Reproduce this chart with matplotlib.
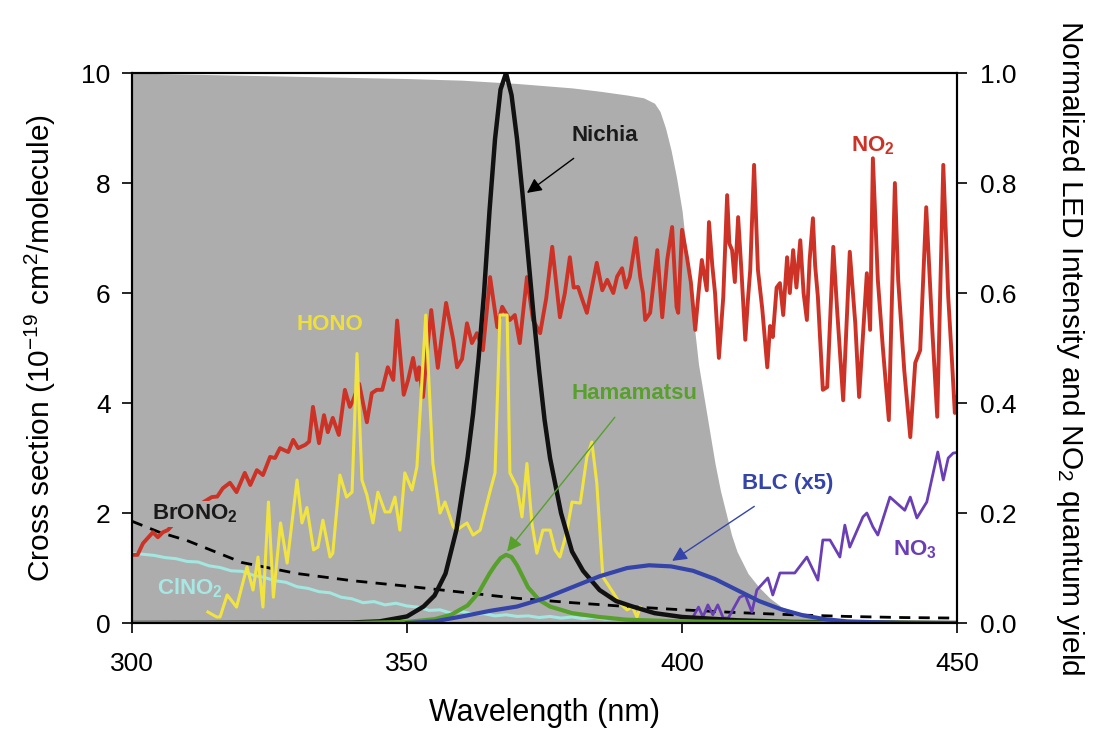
import matplotlib
matplotlib.use("Agg")
import matplotlib.pyplot as plt
import numpy as np

plt.rcParams['font.family'] = ['Liberation Sans', 'DejaVu Sans']
plt.rcParams['mathtext.fontset'] = 'custom'
plt.rcParams['mathtext.rm'] = 'Liberation Sans'
plt.rcParams['mathtext.bf'] = 'Liberation Sans:bold'
plt.rcParams['mathtext.default'] = 'regular'

# NO2 quantum yield (right axis)
qy_wl = [300, 310, 320, 330, 340, 350, 360, 370, 380, 385, 390, 393, 395, 396, 397,
         398, 399, 400, 401, 402, 403, 404, 405, 406, 407, 408, 409, 410, 412, 414,
         416, 418, 420, 422, 425, 430]
qy = [1.0, 0.998, 0.996, 0.994, 0.992, 0.99, 0.987, 0.981, 0.973, 0.967, 0.96, 0.955,
      0.945, 0.93, 0.9, 0.86, 0.81, 0.75, 0.66, 0.56, 0.47, 0.41, 0.35, 0.29, 0.24,
      0.2, 0.16, 0.13, 0.09, 0.065, 0.045, 0.03, 0.022, 0.015, 0.005, 0.0]

# NO2 cross section (left axis)
no2_wl = [300, 301, 302, 302.9, 303.8, 304.7, 305.6, 306.5, 308, 310, 311.5, 313, 314.5,
          315.5, 316.5, 317.8, 319, 320.5, 321.5, 322.7, 323.8, 325.1, 326, 326.9, 327.5,
          328.4, 329.3, 330.2, 331.5, 332.2, 332.9, 334, 334.9, 335.6, 336.5, 337.6,
          338.7, 339.6, 340.2, 341.3, 342.7, 343.6, 344.5, 345.5, 346.5, 347.5, 348.2,
          349.4, 350.2, 351.1, 351.8, 352.2, 352.9, 353.6, 354.4, 355.6, 356.3, 357.1,
          358.4, 359.1, 360, 360.9, 361.8, 362.7, 363.8, 365.1, 366.4, 367.3, 368.7,
          369.6, 370.5, 371.8, 372.9, 374.2, 375.3, 376.4, 377.8, 378.7, 379.6, 380.3,
          381.1, 381.8, 382.7, 384.5, 385.5, 386.4, 387.5, 388.2, 389.1, 389.8, 390.5,
          391.6, 392.4, 392.9, 393.3, 394.2, 395.5, 396.4, 397.3, 398.2, 399.0, 399.3,
          400, 400.9, 401.6, 402.4, 403.0, 403.6, 404.5, 404.9, 405.5, 406, 406.7,
          407.5, 408.2, 408.6, 409.1, 409.6, 410.2, 410.8, 411.5, 412.0, 412.4, 413.1,
          413.8, 414.6, 415.5, 416.0, 416.5, 417.2, 417.8, 418.4, 419.1, 419.6, 420.2,
          420.8, 421.5, 422.1, 422.7, 423.2, 423.8, 424.2, 424.7, 425.6, 426.4, 427.5,
          428.2, 429.3, 430.5, 431.5, 432.2, 433.6, 434.2, 434.7, 435.6, 436.5, 437.6,
          438.7, 439.3, 440.4, 441.5, 442.4, 443.3, 444.4, 445.5, 446.4, 447.5, 448.4,
          449.1, 449.6, 450]
no2 = [1.24, 1.24, 1.45, 1.55, 1.65, 1.56, 1.65, 1.69, 1.85, 2.05, 1.95, 2.2, 2.29,
       2.3, 2.45, 2.55, 2.38, 2.73, 2.51, 2.78, 2.69, 3.02, 3.0, 3.18, 3.15,
       3.11, 3.33, 3.18, 3.24, 3.3, 3.93, 3.27, 3.78, 3.47, 3.73, 3.42,
       4.24, 3.93, 4.05, 4.35, 3.65, 4.18, 4.24, 4.24, 4.65, 4.42, 5.5,
       4.15, 4.42, 4.82, 4.42, 4.65, 4.11, 4.9, 5.69, 4.64, 5.2, 5.82,
       5.15, 4.65, 4.8, 5.45, 5.09, 5.27, 4.96, 6.29, 5.38, 5.75, 5.51,
       5.6, 5.09, 6.29, 5.51, 5.27, 5.9, 6.84, 5.56, 6.0, 6.65, 6.1,
       6.11, 5.9, 5.64, 6.55, 6.05, 6.24, 6.0, 6.3, 6.45, 6.1, 6.29,
       7.0, 6.29, 6.0, 5.51, 5.64, 6.78, 5.56, 6.6, 7.2, 5.75, 5.64,
       7.15, 6.65, 6.2, 5.33, 6.0, 6.6, 6.05, 7.29, 6.5, 6.0, 4.82,
       5.93, 7.78, 6.9, 6.78, 6.2, 7.38, 6.4, 5.15, 5.9, 6.42, 8.33,
       6.42, 5.7, 4.65, 5.4, 5.2, 6.1, 6.18, 5.6, 6.65, 6.0, 6.78,
       6.1, 6.96, 6.0, 5.51, 6.6, 7.36, 6.5, 5.93, 4.24, 4.29, 6.84,
       5.69, 4.05, 6.75, 5.45, 4.11, 6.36, 5.33, 8.45, 6.24, 5.02, 3.69,
       8.0, 6.24, 4.6, 3.38, 4.73, 4.96, 7.56, 5.33, 3.75, 8.33, 5.93,
       4.73, 3.82, 4.1]

# HONO cross section (left axis)
hono_wl = [313.8, 315.4, 316, 317.3, 319, 320.9, 322, 322.9, 323.8, 324.8, 325.7, 327,
           328.2, 330, 330.9, 331.8, 333, 333.8, 334.7, 336, 336.5, 337.8, 339, 340,
           340.9, 341.8, 342.7, 343.8, 344.7, 346, 346.9, 347.8, 348.7, 349.6, 350.9,
           351.8, 353.4, 354.7, 356, 356.9, 358.4, 359, 360.9, 362, 363.3, 365, 366,
           366.9, 368.2, 368.7, 370, 370.9, 371.8, 372.7, 373.6, 374.7, 376, 376.9,
           377.8, 379, 380, 381.5, 382.7, 383.6, 384.5, 385.6, 387.5, 388.7, 390,
           391, 391.8, 392.4]
hono = [0.2, 0.11, 0.11, 0.51, 0.29, 1.02, 0.6, 1.2, 0.29, 2.2, 0.47, 1.82,
        1.09, 2.6, 1.82, 2.1, 1.33, 1.38, 1.87, 1.2, 1.27, 2.69, 2.29, 2.38,
        4.9, 2.6, 2.33, 1.82, 2.38, 2.02, 2.02, 2.29, 1.69, 2.73, 2.42,
        2.84, 5.6, 2.9, 2.0, 2.2, 1.75, 1.69, 1.82, 1.6, 1.69, 2.36, 2.73,
        5.6, 5.6, 2.73, 2.47, 1.93, 2.9, 1.82, 1.27, 1.69, 1.69, 1.33,
        1.2, 1.64, 2.2, 2.18, 3.02, 3.29, 2.55, 0.84, 0.55, 0.36, 0.24,
        0.29, 0.11, 0.29]

# NO3 cross section (left axis)
no3_wl = [402, 403, 403.8, 404.7, 405.6, 406.5, 407.5, 408.4, 410.5, 411.5, 412.7,
          413.6, 415.6, 416.5, 417.8, 420.5, 422.7, 424.7, 425.6, 426.9, 428.7, 429.6,
          430.5, 432.9, 433.6, 434.7, 435.6, 437.8, 440.5, 441.5, 442.7, 444.5, 446.5,
          447.5, 448.4, 449.3, 450]
no3 = [0.11, 0.29, 0.11, 0.33, 0.15, 0.33, 0.09, 0.09, 0.47, 0.51, 0.2,
       0.6, 0.82, 0.51, 0.91, 0.91, 1.2, 0.78, 1.51, 1.51, 1.2, 1.78,
       1.38, 1.93, 2.0, 1.75, 1.6, 2.29, 2.05, 2.29, 1.91, 2.2, 3.11,
       2.6, 3.0, 3.09, 3.1]

# BrONO2 and ClNO2 cross sections (left axis)
brono2_wl = [300, 305, 310, 315, 320, 325, 330, 340, 350, 360, 370, 380, 390, 400,
             410, 420, 430, 440, 450]
brono2 = [1.85, 1.65, 1.5, 1.3, 1.1, 1.0, 0.9, 0.77, 0.67, 0.56, 0.45, 0.37, 0.3,
          0.24, 0.19, 0.15, 0.12, 0.1, 0.09]

clno2_wl = [300, 302, 304, 306, 308, 310, 312, 314, 316, 318, 320, 322, 324, 326, 328,
            330, 332, 334, 336, 338, 340, 342, 344, 346, 348, 350, 352, 354, 356, 358,
            360, 362, 364, 366, 368, 370, 372, 374, 376, 378, 380, 382, 384, 386, 388,
            390]
clno2 = [1.27, 1.25, 1.23, 1.19, 1.17, 1.12, 1.11, 1.04, 1.01, 0.95, 0.94, 0.87,
         0.83, 0.77, 0.74, 0.66, 0.63, 0.57, 0.55, 0.47, 0.44, 0.37, 0.39, 0.33,
         0.36, 0.31, 0.29, 0.23, 0.24, 0.18, 0.21, 0.16, 0.17, 0.13, 0.15, 0.12,
         0.13, 0.1, 0.12, 0.09, 0.11, 0.08, 0.1, 0.07, 0.08, 0.06]

# LED emission spectra (right axis)
nichia_wl = [300, 340, 345, 350, 353, 355, 357, 359, 361, 362, 363, 364, 365, 366, 367,
             368, 369, 370, 371, 372, 373, 374, 375, 376, 378, 380, 382, 385, 388, 391,
             395, 400, 410, 420, 450]
nichia = [0.0, 0.001, 0.003, 0.012, 0.03, 0.05, 0.09, 0.17, 0.3, 0.38, 0.48, 0.6,
          0.75, 0.88, 0.97, 1.0, 0.96, 0.88, 0.78, 0.67, 0.56, 0.46, 0.37, 0.3, 0.2,
          0.13, 0.095, 0.06, 0.04, 0.03, 0.018, 0.011, 0.005, 0.002, 0.0]

hamamatsu_wl = [300, 340, 350, 355, 358, 361, 363, 365, 366, 367, 368, 369, 370, 371,
                372, 374, 376, 380, 385, 390, 400, 420, 450]
hamamatsu = [0.0, 0.0, 0.002, 0.007, 0.015, 0.032, 0.055, 0.09, 0.105, 0.118, 0.124,
             0.12, 0.105, 0.085, 0.065, 0.042, 0.03, 0.018, 0.011, 0.006, 0.003,
             0.001, 0.0]

blc_wl = [350, 355, 360, 365, 370, 375, 380, 385, 390, 394, 398, 402, 406, 410, 414,
          418, 422, 426, 430, 440, 450]
blc = [0.0, 0.003, 0.012, 0.022, 0.03, 0.045, 0.065, 0.085, 0.1, 0.105, 0.103, 0.095,
       0.08, 0.06, 0.04, 0.025, 0.014, 0.007, 0.003, 0.0, 0.0]

fig = plt.figure(figsize=(10.93, 7.31), dpi=100)
ax = fig.add_axes([0.1208, 0.1477, 0.7548, 0.7524])
ax2 = ax.twinx()
ax.set_xlim(300, 450)
ax.set_ylim(0, 10)
ax2.set_ylim(0, 1)
rt = ax2.transData  # right-axis scale, but drawn inside the main axes

ax.fill_between(qy_wl, 0, qy, transform=rt, color='#adadad', lw=0, zorder=1)
ax.plot(clno2_wl, clno2, color='#a4e6e0', lw=2.2, zorder=2)
ax.plot(brono2_wl, brono2, color='black', lw=2, ls=(0, (4, 3)), zorder=2.5)
ax.plot(no2_wl, no2, color='#cc3326', lw=2.8, zorder=3)
ax.plot(hono_wl, hono, color='#f2e440', lw=2.2, zorder=4)
ax.plot(no3_wl, no3, color='#6a3fb5', lw=2.0, zorder=4)
ax.plot(nichia_wl, nichia, transform=rt, color='#111111', lw=3.2, zorder=5)
ax.plot(hamamatsu_wl, hamamatsu, transform=rt, color='#58a02c', lw=3, zorder=6)
ax.plot(blc_wl, blc, transform=rt, color='#3444a8', lw=3, zorder=6)

bold = dict(fontsize=16, fontweight='bold', zorder=8)
ax.text(434.7, 8.67, 'NO$_\\mathbf{2}$', color='#cc3326', ha='center', va='center', **bold)
ax.text(336, 5.42, 'HONO', color='#eedf3c', ha='center', va='center', **bold)
ax.text(442.4, 1.33, 'NO$_\\mathbf{3}$', color='#6a3fb5', ha='center', va='center', **bold)
ax.text(311.5, 1.98, 'BrONO$_\\mathbf{2}$', color='#1a1a1a', ha='center', va='center',
        bbox=dict(facecolor='#adadad', edgecolor='none', pad=1), **bold)
ax.text(310.5, 0.64, 'ClNO$_\\mathbf{2}$', color='#a8e8e4', ha='center', va='center', **bold)

ax.annotate('Nichia', xy=(371.8, 7.82), xytext=(386, 8.87), color='#1a1a1a',
            ha='center', va='center', fontsize=16, fontweight='bold', zorder=8,
            arrowprops=dict(arrowstyle='-|>', color='black', lw=1, mutation_scale=22,
                            shrinkA=12, shrinkB=0))
ax.annotate('Hamamatsu', xy=(368.2, 1.3), xytext=(391.3, 4.18), color='#58a02c',
            ha='center', va='center', fontsize=16, fontweight='bold', zorder=8,
            arrowprops=dict(arrowstyle='-|>', color='#58a02c', lw=1, mutation_scale=22,
                            shrinkA=10, shrinkB=0))
ax.annotate('BLC (x5)', xy=(398.2, 1.13), xytext=(419.3, 2.53), color='#3444a8',
            ha='center', va='center', fontsize=16, fontweight='bold', zorder=8,
            arrowprops=dict(arrowstyle='-|>', color='#3444a8', lw=1, mutation_scale=22,
                            shrinkA=12, shrinkB=0))

ax.set_xticks([300, 350, 400, 450])
ax.set_yticks([0, 2, 4, 6, 8, 10])
ax2.set_yticks([0, 0.2, 0.4, 0.6, 0.8, 1.0])
ax2.set_yticklabels(['0.0', '0.2', '0.4', '0.6', '0.8', '1.0'])
for a in (ax, ax2):
    a.tick_params(direction='out', length=7.5, width=1.2, labelsize=19, pad=8)
    for s in a.spines.values():
        s.set_linewidth(1.5)
        s.set_zorder(10)
ax.tick_params(axis='x', pad=13)
ax2.tick_params(axis='y', pad=9)

ax.set_xlabel('Wavelength (nm)', fontsize=22, labelpad=16)
ax.set_ylabel('Cross section (10$^{-19}$ cm$^2$/molecule)', fontsize=21.5, labelpad=17)
ax2.set_ylabel('Normalized LED Intensity and NO$_2$ quantum yield', fontsize=21.5,
               rotation=270, labelpad=50)

fig.savefig('out.png', dpi=100)
